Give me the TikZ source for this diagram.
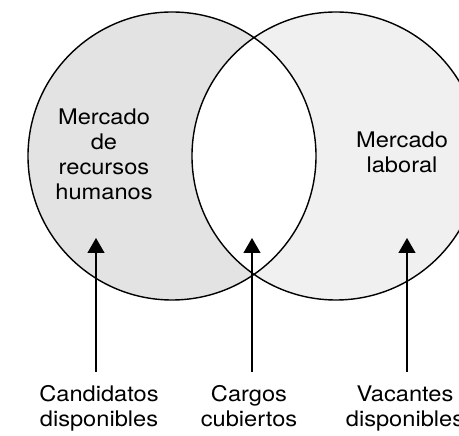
\documentclass[tikz,border=0pt]{standalone}
\usepackage{fontspec}
\setmainfont{TeX Gyre Heros}
\usetikzlibrary{arrows.meta, positioning}
\tikzset{
  labeltext/.style={font=\fontsize{21.5}{25}\selectfont, align=center, inner sep=0pt,
    xscale=1.1, transform shape, anchor=base}
}
\tikzset{
  vennline/.style={line width=1.4pt},
  uparrow/.style={line width=1.2pt, -{Triangle[width=17pt,length=15pt]}, shorten <=14pt}
}
\begin{document}
\begin{tikzpicture}[x=1pt, y=1pt]
  \useasboundingbox (0,0) rectangle (459,436);
  \clip (0,0) rectangle (459,436);
  \coordinate (lc) at (172,280);
  \coordinate (rc) at (336,280);
  % shaded markets, white overlap
  \fill[gray!22] (lc) circle (144);
  \fill[gray!12] (rc) circle (144);
  \begin{scope}
    \clip (lc) circle (144);
    \fill[white] (rc) circle (144);
  \end{scope}
  \draw[vennline] (lc) circle (144) (rc) circle (144);
  % market labels (base = last line)
  \node[labeltext] (rrhh) at (104,236) {Mercado\\de\\recursos\\humanos};
  \node[labeltext] (laboral) at (402,263) {Mercado\\laboral};
  % bottom labels
  \node[labeltext] (cand) at (99,9) {Candidatos\\disponibles};
  \node[labeltext] (carg) at (249,9) {Cargos\\cubiertos};
  \node[labeltext] (vac) at (405,9) {Vacantes\\disponibles};
  % arrows
  \coordinate (ta) at (96,198);
  \coordinate (tb) at (252,198);
  \coordinate (tc) at (407,198);
  \foreach \lab/\tip in {cand/ta, carg/tb, vac/tc}
    \draw[uparrow] (\tip |- \lab.north) -- (\tip);
\end{tikzpicture}
\end{document}
